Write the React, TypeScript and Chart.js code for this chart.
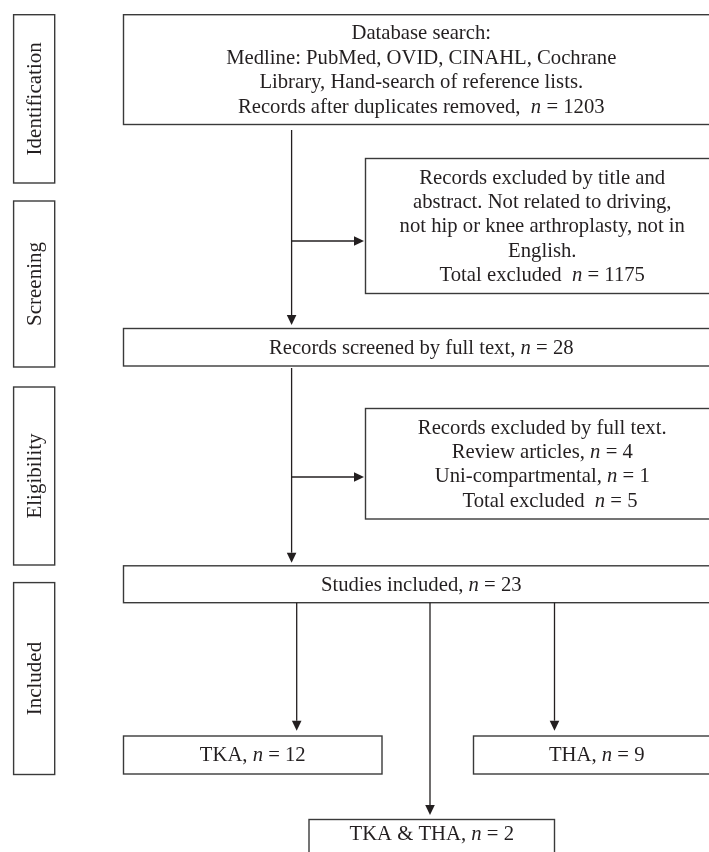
import React, { useEffect, useRef } from "react";
import { Chart, registerables } from "chart.js";
Chart.register(...registerables);

// ---------- data ----------
const stageLabels = ["Identification", "Screening", "Eligibility", "Included"];
const nodeCounts = [1203, 1175, 28, 5, 23, 12, 9, 2];
const fullTextReasons = ["Review articles", "Uni-compartmental"];
const fullTextReasonCounts = [4, 1];
const nodeTexts: string[][] = [
  ["Database search:", "Medline: PubMed, OVID, CINAHL, Cochrane", "Library, Hand-search of reference lists.", "Records after duplicates removed,  *n* = {v}"],
  ["Records excluded by title and", "abstract. Not related to driving,", "not hip or knee arthroplasty, not in", "English.", "Total excluded  *n* = {v}"],
  ["Records screened by full text, *n* = {v}"],
  ["Records excluded by full text.", `${fullTextReasons[0]}, *n* = ${fullTextReasonCounts[0]}`, `${fullTextReasons[1]}, *n* = ${fullTextReasonCounts[1]}`, "   Total excluded  *n* = {v}"],
  ["Studies included, *n* = {v}"],
  ["TKA, *n* = {v}"],
  ["THA, *n* = {v}"],
  ["TKA & THA, *n* = {v}"],
];

// ---------- layout (chart units) ----------
const stageX = [13.6, 54.7];
const stageBands = [[14.7, 183], [201, 367], [387, 565], [582.6, 774.5]];
const nodeBoxes = [
  [123.5, 14.7, 719, 124.5],
  [365.5, 158.5, 719, 293.5],
  [123.5, 328.5, 719, 366],
  [365.5, 408.5, 719, 519],
  [123.5, 565.8, 719, 602.7],
  [123.5, 736, 382, 774],
  [473.5, 736, 720, 774],
  [309, 819.5, 554.5, 866],
];
const textCenterY: (number | null)[] = [null, null, null, null, null, null, null, 834];
const arrows = [
  [[291.6, 130], [291.6, 325]],
  [[291.6, 241], [364, 241]],
  [[291.6, 368], [291.6, 562.7]],
  [[291.6, 477], [364, 477]],
  [[296.7, 602.7], [296.7, 730.7]],
  [[430, 602.7], [430, 815]],
  [[554.5, 602.7], [554.5, 730.7]],
];

const FONT = '"Liberation Serif", "DejaVu Serif", serif';
const MAIN_SIZE = 20.7;
const STAGE_SIZE = 21;
const LINE_H = 24.4;
const TEXT_COLOR = "#231f20";
const BOX_COLOR = "#3a3a3a";

function parseRich(s: string) {
  const parts = s.split("*");
  return parts.map((t, i) => ({ t, it: i % 2 === 1 })).filter((p) => p.t.length > 0);
}

function drawRich(ctx: CanvasRenderingContext2D, line: string, cx: number, cy: number, size: number) {
  const segs = parseRich(line);
  let total = 0;
  const widths = segs.map((sg) => {
    ctx.font = `${sg.it ? "italic " : ""}${size}px ${FONT}`;
    const w = ctx.measureText(sg.t).width;
    total += w;
    return w;
  });
  let x = cx - total / 2;
  segs.forEach((sg, i) => {
    ctx.font = `${sg.it ? "italic " : ""}${size}px ${FONT}`;
    ctx.fillText(sg.t, x, cy);
    x += widths[i];
  });
}

const flowPlugin = {
  id: "flow",
  afterDatasetsDraw(chart: any) {
    const ctx: CanvasRenderingContext2D = chart.ctx;
    const xs = chart.scales.x;
    const ys = chart.scales.y;
    const px = (v: number) => xs.getPixelForValue(v);
    const py = (v: number) => ys.getPixelForValue(v);
    ctx.save();
    ctx.fillStyle = "#ffffff";
    ctx.fillRect(0, 0, chart.width, chart.height);

    // stage boxes
    ctx.strokeStyle = BOX_COLOR;
    ctx.lineWidth = 1.4;
    stageLabels.forEach((lab, i) => {
      const [t, b] = stageBands[i];
      const x0 = px(stageX[0]), x1 = px(stageX[1]);
      const y0 = py(t), y1 = py(b);
      ctx.strokeRect(x0, y0, x1 - x0, y1 - y0);
      ctx.save();
      ctx.translate((x0 + x1) / 2 + 1, (y0 + y1) / 2);
      ctx.rotate(-Math.PI / 2);
      ctx.fillStyle = TEXT_COLOR;
      ctx.textAlign = "center";
      ctx.textBaseline = "middle";
      ctx.font = `${STAGE_SIZE}px ${FONT}`;
      ctx.fillText(lab, 0, 0);
      ctx.restore();
    });

    // node boxes
    nodeBoxes.forEach((bx, i) => {
      const x0 = px(bx[0]), y0 = py(bx[1]), x1 = px(bx[2]), y1 = py(bx[3]);
      ctx.strokeStyle = BOX_COLOR;
      ctx.lineWidth = 1.4;
      ctx.strokeRect(x0, y0, x1 - x0, y1 - y0);
      const lines = nodeTexts[i].map((l) => l.replace("{v}", String(nodeCounts[i])));
      const cx = (x0 + x1) / 2;
      const cy = textCenterY[i] != null ? py(textCenterY[i] as number) : (y0 + y1) / 2;
      ctx.fillStyle = TEXT_COLOR;
      ctx.textAlign = "left";
      ctx.textBaseline = "middle";
      const n = lines.length;
      lines.forEach((l, k) => {
        drawRich(ctx, l, cx, cy + (k - (n - 1) / 2) * LINE_H + 1, MAIN_SIZE);
      });
    });

    // arrows
    ctx.strokeStyle = TEXT_COLOR;
    ctx.fillStyle = TEXT_COLOR;
    ctx.lineWidth = 1.3;
    arrows.forEach((a) => {
      const pts = a.map(([x, y]) => [px(x), py(y)]);
      const [ex, ey] = pts[pts.length - 1];
      const [sx, sy] = pts[pts.length - 2];
      const ang = Math.atan2(ey - sy, ex - sx);
      const hl = 10, hw = 4.8;
      const bx = ex - hl * Math.cos(ang), by = ey - hl * Math.sin(ang);
      ctx.beginPath();
      ctx.moveTo(pts[0][0], pts[0][1]);
      for (let k = 1; k < pts.length - 1; k++) ctx.lineTo(pts[k][0], pts[k][1]);
      ctx.lineTo(bx, by);
      ctx.stroke();
      ctx.beginPath();
      ctx.moveTo(ex, ey);
      ctx.lineTo(bx - hw * Math.sin(ang), by + hw * Math.cos(ang));
      ctx.lineTo(bx + hw * Math.sin(ang), by - hw * Math.cos(ang));
      ctx.closePath();
      ctx.fill();
    });
    ctx.restore();
  },
};

export default function App() {
  const ref = useRef<HTMLCanvasElement | null>(null);
  useEffect(() => {
    if (!ref.current) return;
    const centers = nodeBoxes.map((b, i) => ({ x: (b[0] + b[2]) / 2, y: textCenterY[i] ?? (b[1] + b[3]) / 2 }));
    const chart = new Chart(ref.current, {
      type: "scatter",
      data: { datasets: [{ data: centers, pointRadius: 0, showLine: false }] },
      options: {
        animation: false,
        responsive: false,
        layout: { padding: 0 },
        scales: {
          x: { type: "linear", min: 0, max: 709, display: false },
          y: { type: "linear", min: 0, max: 852, reverse: true, display: false },
        },
        plugins: { legend: { display: false }, tooltip: { enabled: false } },
      },
      plugins: [flowPlugin],
    });
    return () => chart.destroy();
  }, []);
  return (
    <div style={{ position: "absolute", left: 0, top: 0, width: 709, height: 852, background: "#fff" }}>
      <canvas ref={ref} width={709} height={852} />
    </div>
  );
}
